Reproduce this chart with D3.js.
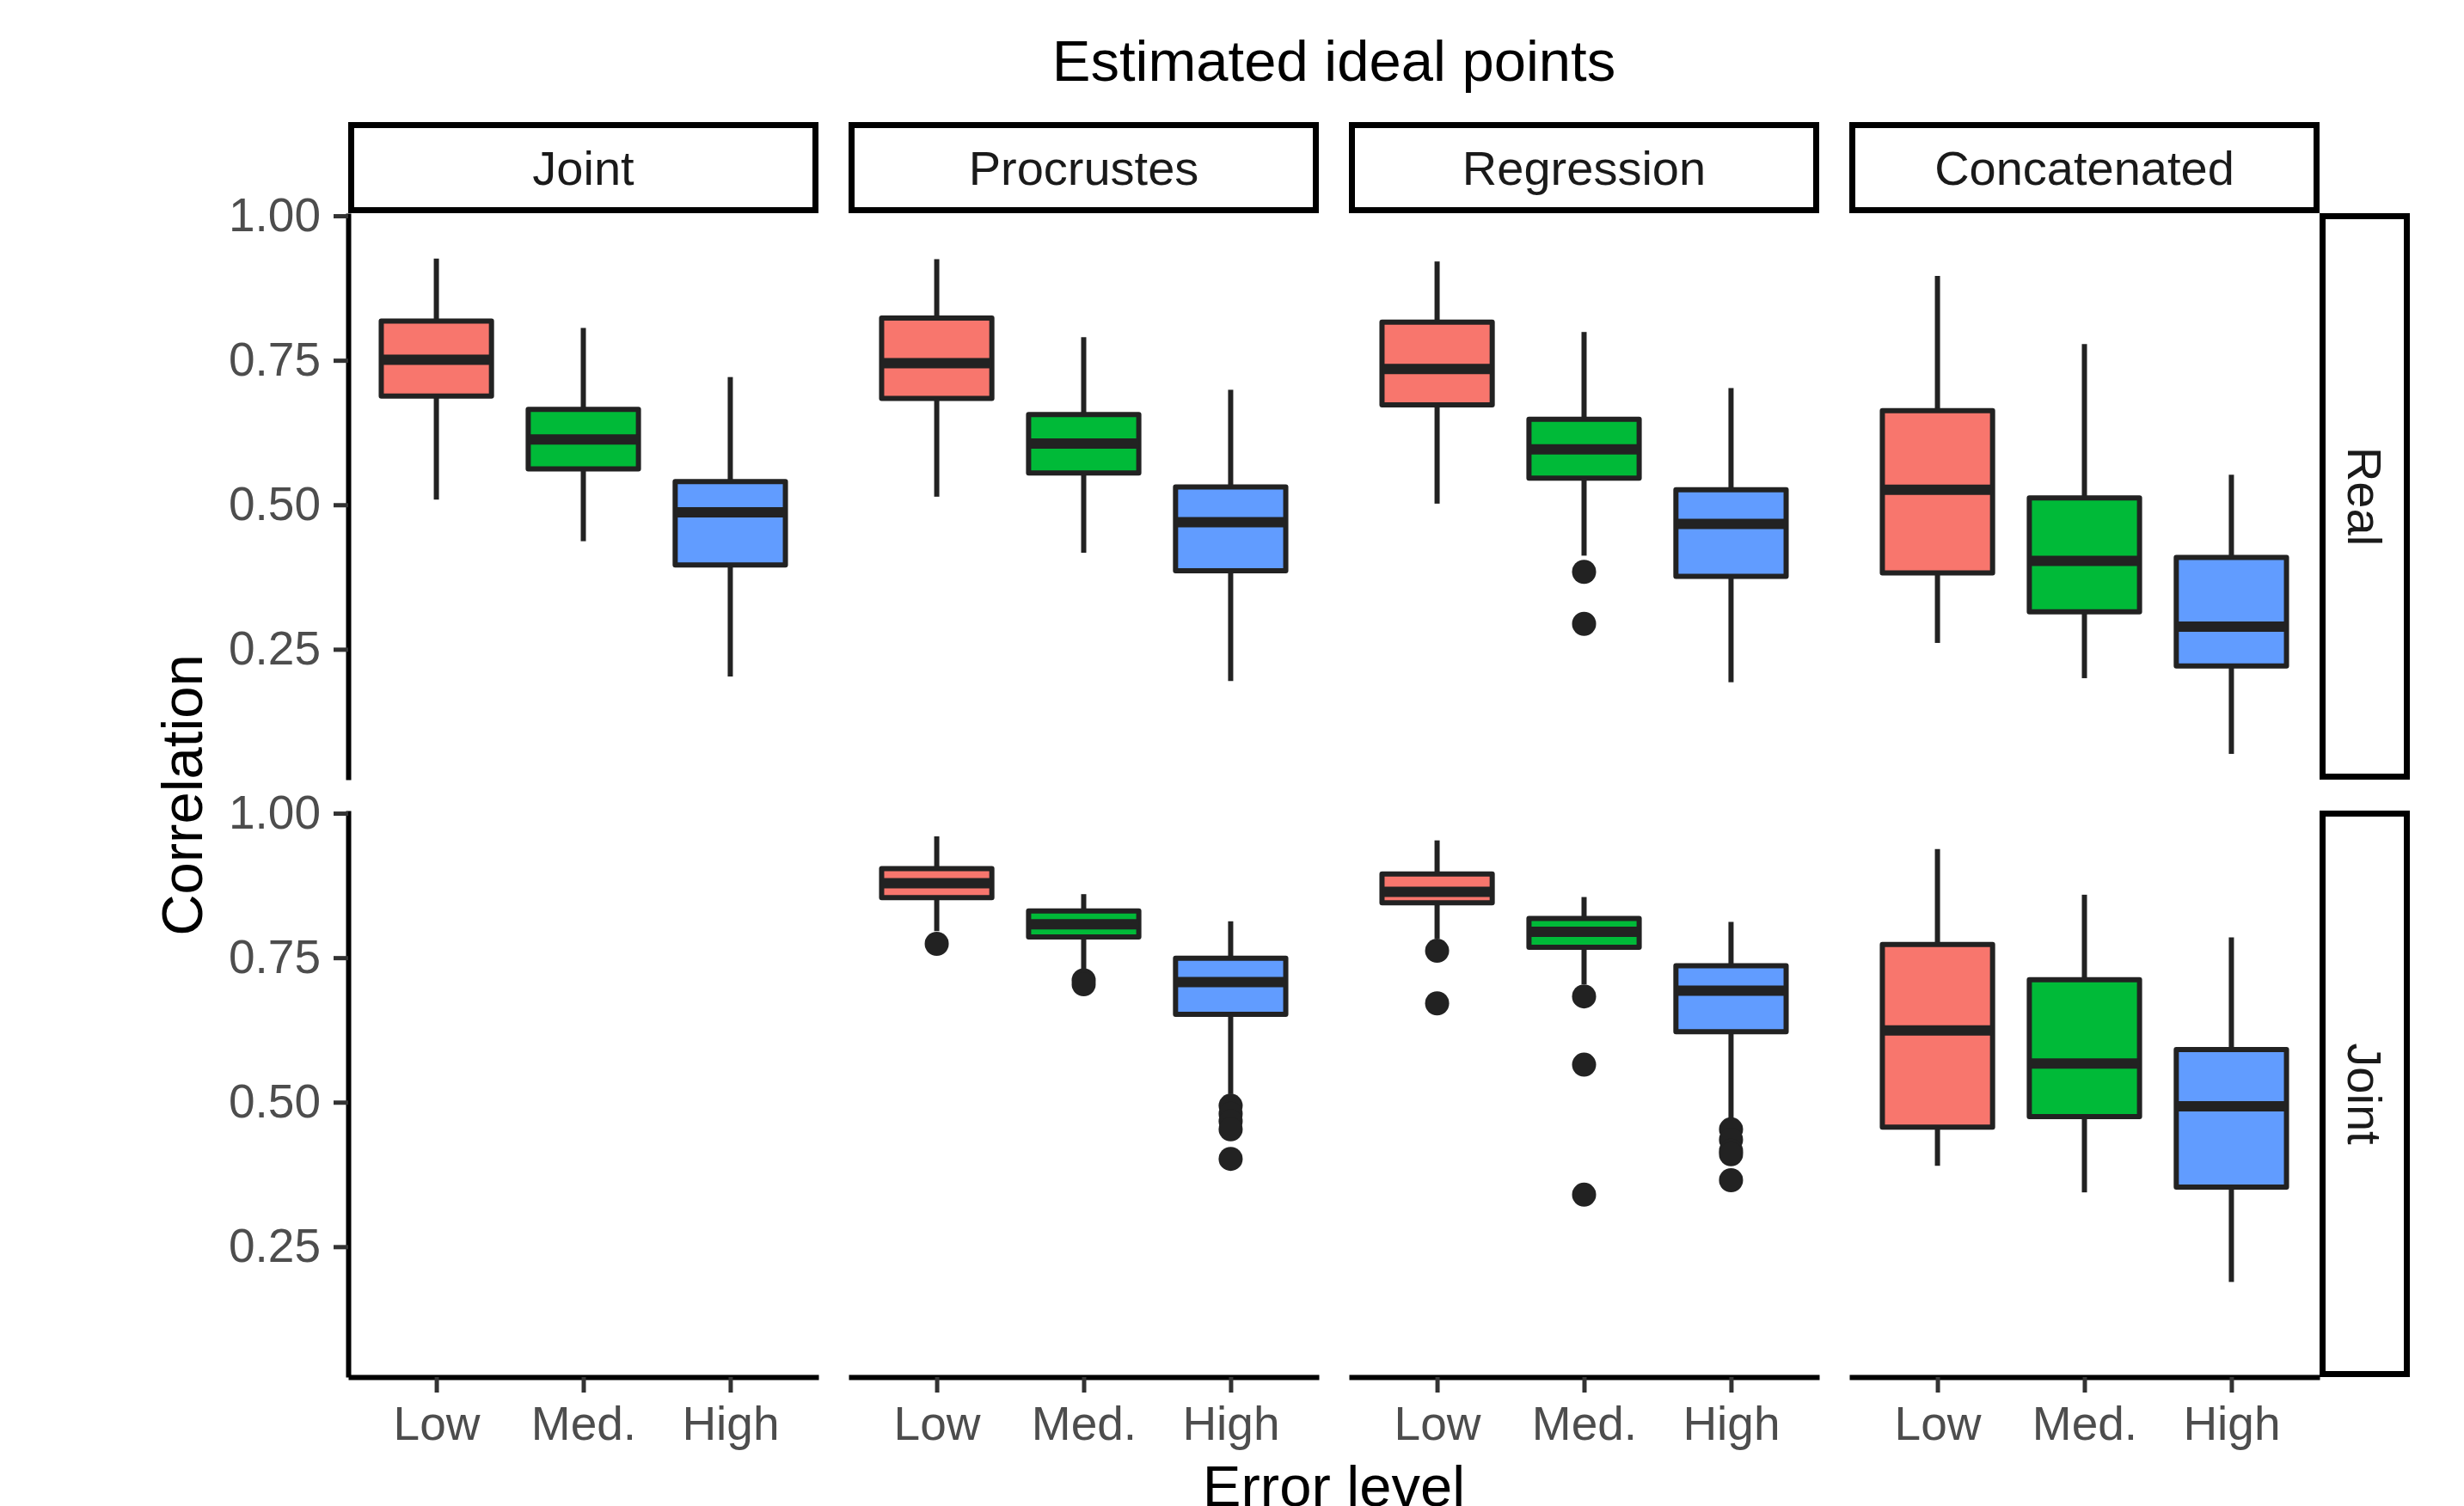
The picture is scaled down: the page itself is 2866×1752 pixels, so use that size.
<!DOCTYPE html>
<html>
<head>
<meta charset="utf-8">
<script src="https://cdn.jsdelivr.net/npm/d3@7"></script>
<style>
  html, body { margin: 0; padding: 0; background: #fff; }
  svg { display: block; font-family: "Liberation Sans", Arial, sans-serif; }
</style>
</head>
<body>
<svg id="chart" width="2866" height="1752"></svg>
<script>
// facets and categories
const methods = ["Joint", "Procrustes", "Regression", "Concatenated"]
const sources = ["Real", "Joint"]
const levels = ["Low", "Med.", "High"]
const fills = ["#F8766D", "#00BA38", "#619CFF"]
const yTicks = [0.25, 0.50, 0.75, 1.00]

// box summaries per error level: [lower whisker, Q1, median, Q3, upper whisker]
const realJoint        = [[0.509, 0.688, 0.751, 0.818, 0.926], [0.437, 0.562, 0.613, 0.665, 0.806], [0.203, 0.396, 0.487, 0.540, 0.721]]
const realProcrustes   = [[0.514, 0.684, 0.745, 0.823, 0.925], [0.417, 0.555, 0.606, 0.656, 0.790], [0.195, 0.386, 0.470, 0.531, 0.699]]
const realRegression   = [[0.502, 0.673, 0.735, 0.816, 0.921], [0.412, 0.546, 0.596, 0.648, 0.799], [0.193, 0.376, 0.467, 0.526, 0.702]]
const realConcatenated = [[0.261, 0.382, 0.526, 0.663, 0.896], [0.200, 0.315, 0.403, 0.512, 0.778], [0.069, 0.221, 0.289, 0.409, 0.552]]
const jointJoint        = []
const jointProcrustes   = [[0.796, 0.854, 0.879, 0.904, 0.960], [0.729, 0.786, 0.808, 0.831, 0.860], [0.514, 0.652, 0.708, 0.749, 0.813]]
const jointRegression   = [[0.783, 0.845, 0.864, 0.895, 0.953], [0.704, 0.768, 0.795, 0.818, 0.855], [0.471, 0.622, 0.693, 0.736, 0.812]]
const jointConcatenated = [[0.390, 0.457, 0.624, 0.773, 0.938], [0.344, 0.475, 0.567, 0.712, 0.859], [0.189, 0.353, 0.493, 0.591, 0.785]]

// outliers per error level
const realRegressionOut  = [[], [0.384, 0.294], []]
const jointProcrustesOut = [[0.774], [0.711, 0.704], [0.494, 0.480, 0.467, 0.453, 0.402]]
const jointRegressionOut = [[0.762, 0.671], [0.683, 0.565, 0.340], [0.453, 0.435, 0.416, 0.410, 0.365]]

const panels = [
    { row: "Real", col: "Joint", stats: realJoint, out: [] },
    { row: "Real", col: "Procrustes", stats: realProcrustes, out: [] },
    { row: "Real", col: "Regression", stats: realRegression, out: realRegressionOut },
    { row: "Real", col: "Concatenated", stats: realConcatenated, out: [] },
    { row: "Joint", col: "Joint", stats: jointJoint, out: [] },
    { row: "Joint", col: "Procrustes", stats: jointProcrustes, out: jointProcrustesOut },
    { row: "Joint", col: "Regression", stats: jointRegression, out: jointRegressionOut },
    { row: "Joint", col: "Concatenated", stats: jointConcatenated, out: [] },
]

// layout
const left = 405, panelW = 547, gapX = 35
const rowTop = { Real: 248, Joint: 943 }, panelH = 659
const stripTop = 142, stripRightW = 105
const ink = "#222222"

const svg = d3.select("#chart")

// shared y domain with ggplot-like 5% expansion
let allVals = []
panels.forEach(p => {
    p.stats.forEach(s => allVals.push(...s))
    p.out.forEach(o => allVals.push(...o))
})
let [lo, hi] = d3.extent(allVals)
let pad = (hi - lo) * 0.05
const yDomain = [lo - pad, hi + pad]

const colX = col => left + methods.indexOf(col) * (panelW + gapX)

panels.forEach(p => {
    let x0 = colX(p.col), y0 = rowTop[p.row]
    let y = d3.scaleLinear().domain(yDomain).range([y0 + panelH, y0])
    let x = d3.scalePoint().domain(levels).range([x0, x0 + panelW]).padding(0.6)
    let boxW = x.step() * 0.75

    let g = svg.append("g")
    let boxes = g.selectAll("g.box")
        .data(p.stats.map((s, i) => ({ s, lvl: levels[i], fill: fills[i], out: p.out[i] || [] })))
        .join("g")
        .attr("class", "box")

    boxes.append("line")
        .attr("x1", d => x(d.lvl)).attr("x2", d => x(d.lvl))
        .attr("y1", d => y(d.s[4])).attr("y2", d => y(d.s[3]))
        .attr("stroke", ink).attr("stroke-width", 6)
    boxes.append("line")
        .attr("x1", d => x(d.lvl)).attr("x2", d => x(d.lvl))
        .attr("y1", d => y(d.s[1])).attr("y2", d => y(d.s[0]))
        .attr("stroke", ink).attr("stroke-width", 6)
    boxes.append("rect")
        .attr("x", d => x(d.lvl) - boxW / 2)
        .attr("width", boxW)
        .attr("y", d => y(d.s[3]))
        .attr("height", d => y(d.s[1]) - y(d.s[3]))
        .attr("fill", d => d.fill)
        .attr("stroke", ink).attr("stroke-width", 6)
        .attr("stroke-linejoin", "round")
    boxes.append("line")
        .attr("x1", d => x(d.lvl) - boxW / 2).attr("x2", d => x(d.lvl) + boxW / 2)
        .attr("y1", d => y(d.s[2])).attr("y2", d => y(d.s[2]))
        .attr("stroke", ink).attr("stroke-width", 12)
    boxes.selectAll("circle")
        .data(d => d.out.map(v => ({ v, lvl: d.lvl })))
        .join("circle")
        .attr("cx", d => x(d.lvl))
        .attr("cy", d => y(d.v))
        .attr("r", 14)
        .attr("fill", ink)

    // y axis on the first column
    if (p.col === methods[0]) {
        let ax = g.append("g")
            .attr("transform", `translate(${x0},0)`)
            .call(d3.axisLeft(y).tickValues(yTicks).tickFormat(d3.format(".2f"))
                .tickSize(17).tickSizeOuter(0).tickPadding(15))
        ax.select(".domain").attr("stroke", "#000").attr("stroke-width", 6)
        ax.selectAll(".tick line").attr("stroke", "#333").attr("stroke-width", 5)
        ax.selectAll(".tick text").attr("fill", "#4D4D4D").attr("font-size", 55)
            .attr("font-family", "Liberation Sans, Arial, sans-serif")
    }
    // x axis on the bottom row
    if (p.row === sources[sources.length - 1]) {
        let ax = g.append("g")
            .attr("transform", `translate(0,${y0 + panelH})`)
            .call(d3.axisBottom(x).tickSize(18).tickSizeOuter(0).tickPadding(16))
        ax.select(".domain").attr("stroke", "#000").attr("stroke-width", 6)
        ax.selectAll(".tick line").attr("stroke", "#333").attr("stroke-width", 5)
        ax.selectAll(".tick text").attr("fill", "#4D4D4D").attr("font-size", 55)
            .attr("font-family", "Liberation Sans, Arial, sans-serif")
    }
})

// column strips
methods.forEach(m => {
    let x0 = colX(m)
    svg.append("rect")
        .attr("x", x0 + 3.5).attr("y", stripTop + 3.5)
        .attr("width", panelW - 7).attr("height", rowTop.Real - stripTop - 7)
        .attr("fill", "#fff").attr("stroke", "#000").attr("stroke-width", 7)
    svg.append("text")
        .attr("x", x0 + panelW / 2)
        .attr("y", (stripTop + rowTop.Real) / 2 + 20)
        .attr("text-anchor", "middle")
        .attr("font-size", 56).attr("fill", "#1A1A1A")
        .text(m)
})

// row strips
let stripX = left + 4 * panelW + 3 * gapX
sources.forEach(s => {
    let y0 = rowTop[s]
    svg.append("rect")
        .attr("x", stripX + 3.5).attr("y", y0 + 3.5)
        .attr("width", stripRightW - 7).attr("height", panelH - 7)
        .attr("fill", "#fff").attr("stroke", "#000").attr("stroke-width", 7)
    svg.append("text")
        .attr("transform", `translate(${stripX + stripRightW / 2 - 20},${y0 + panelH / 2}) rotate(90)`)
        .attr("text-anchor", "middle")
        .attr("font-size", 56).attr("fill", "#1A1A1A")
        .text(s)
})

// titles
let midX = (left + stripX) / 2
svg.append("text")
    .attr("x", midX).attr("y", 94)
    .attr("text-anchor", "middle").attr("font-size", 67).attr("fill", "#000")
    .text("Estimated ideal points")
svg.append("text")
    .attr("x", midX).attr("y", 1752)
    .attr("text-anchor", "middle").attr("font-size", 67).attr("fill", "#000")
    .text("Error level")
svg.append("text")
    .attr("transform", `translate(235,${(rowTop.Real + rowTop.Joint + panelH) / 2}) rotate(-90)`)
    .attr("text-anchor", "middle").attr("font-size", 67).attr("fill", "#000")
    .text("Correlation")
</script>
</body>
</html>
